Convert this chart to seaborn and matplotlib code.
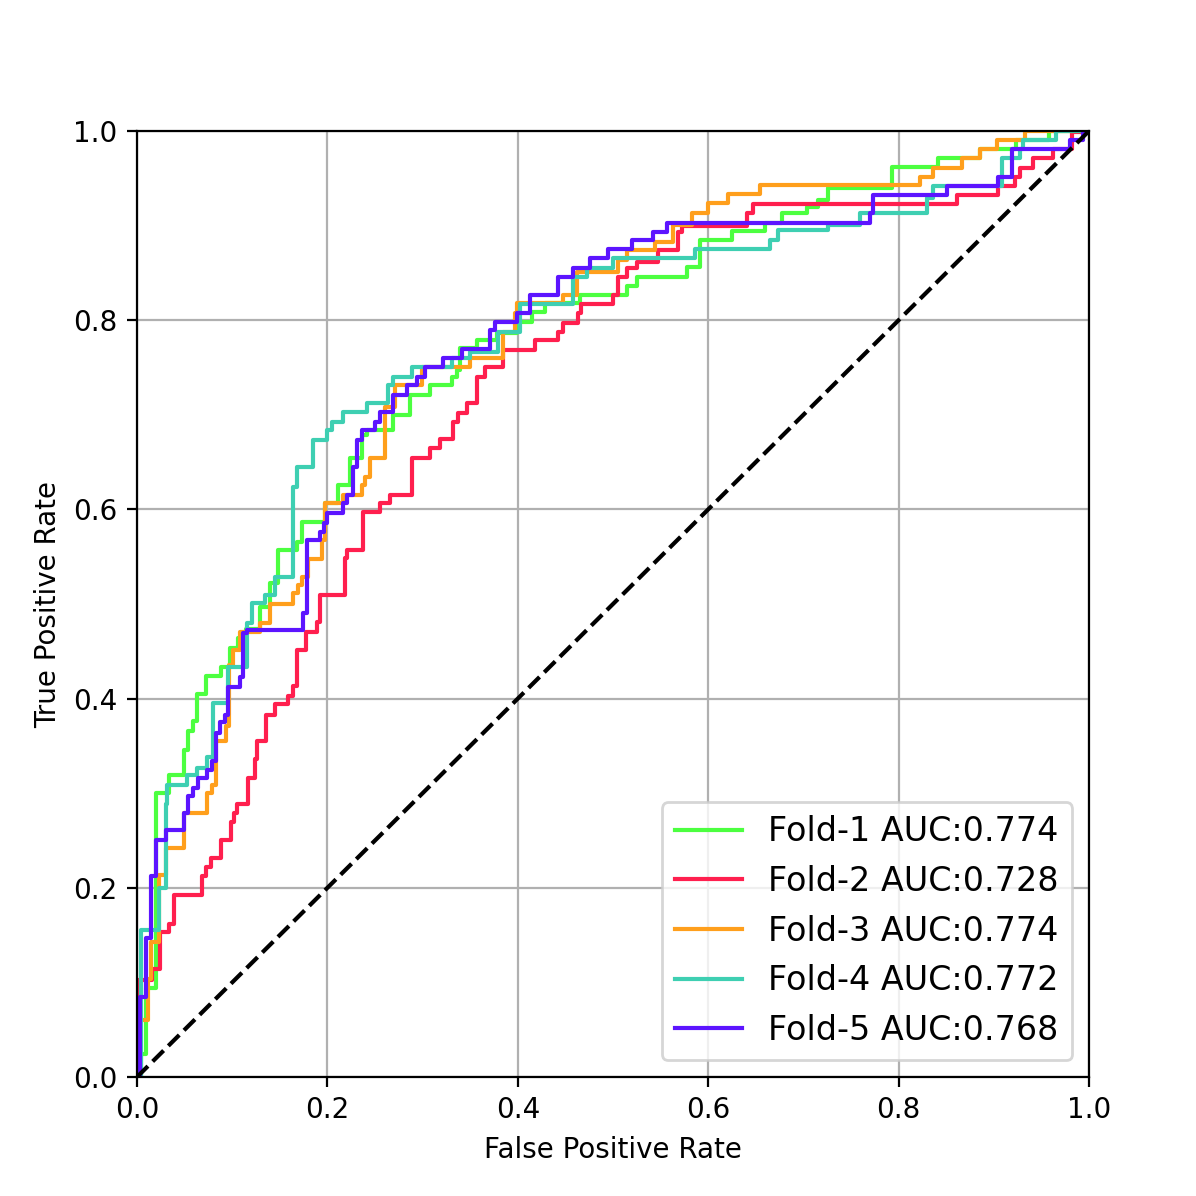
import numpy as np
import pandas as pd
import matplotlib
matplotlib.use("Agg")
import matplotlib.pyplot as plt
import seaborn as sns

# ROC step points per fold: at each fpr the tpr jumps up to the value given
fold1_fpr = [0, 0.004, 0.009, 0.0196, 0.0336, 0.049, 0.054, 0.059, 0.0635, 0.0725, 0.088, 0.098,
             0.1065, 0.115, 0.129, 0.1397, 0.1484, 0.1677, 0.1730, 0.1975, 0.2115, 0.2237, 0.2360,
             0.2413, 0.2693, 0.2868, 0.3078, 0.3305, 0.3358, 0.3393, 0.3568, 0.3778, 0.3988, 0.4146,
             0.4286, 0.4653, 0.5144, 0.5252, 0.5774, 0.5914, 0.6255, 0.6597, 0.6772, 0.7035, 0.7157,
             0.7262, 0.7927, 0.8417, 0.8856, 0.9233, 0.9582, 1.0]
fold1_tpr = [0, 0.024, 0.094, 0.300, 0.319, 0.346, 0.366, 0.376, 0.405, 0.424, 0.433, 0.453,
             0.464, 0.474, 0.497, 0.522, 0.557, 0.566, 0.587, 0.6065, 0.6258, 0.6541, 0.6787,
             0.684, 0.6998, 0.7206, 0.7315, 0.7403, 0.7474, 0.7702, 0.7791, 0.786, 0.7984, 0.809,
             0.8178, 0.8266, 0.836, 0.846, 0.8566, 0.8848, 0.8946, 0.9024, 0.913, 0.920, 0.927,
             0.9394, 0.9623, 0.9711, 0.981, 0.9905, 1.0, 1.0]

fold2_fpr = [0, 0.0, 0.016, 0.0242, 0.0336, 0.0389, 0.0686, 0.0721, 0.0774, 0.0879, 0.0984, 0.1019,
             0.1054, 0.117, 0.124, 0.126, 0.136, 0.145, 0.159, 0.164, 0.1684, 0.178, 0.1887, 0.1922,
             0.2185, 0.2210, 0.2370, 0.2553, 0.2658, 0.2892, 0.3078, 0.318, 0.3316, 0.3368, 0.3470,
             0.3568, 0.3655, 0.3848, 0.4181, 0.4427, 0.4471, 0.4636, 0.4661, 0.5004, 0.5056, 0.5144,
             0.5249, 0.5477, 0.5686, 0.5721, 0.6404, 0.6474, 0.8609, 0.9048, 0.9222, 0.9276, 0.9416,
             0.9625, 0.982, 1.0]
fold2_tpr = [0, 0.103, 0.114, 0.1536, 0.162, 0.192, 0.212, 0.222, 0.231, 0.2505, 0.270, 0.279,
             0.289, 0.316, 0.336, 0.355, 0.383, 0.394, 0.403, 0.413, 0.4514, 0.4707, 0.4814, 0.5097,
             0.5483, 0.5571, 0.5976, 0.6065, 0.6153, 0.6541, 0.6647, 0.674, 0.6927, 0.7022, 0.7122,
             0.7403, 0.7509, 0.7685, 0.7791, 0.7879, 0.7974, 0.8072, 0.8171, 0.8266, 0.846, 0.8548,
             0.8618, 0.8742, 0.8936, 0.8996, 0.9129, 0.9224, 0.9323, 0.9422, 0.9517, 0.9612, 0.9711,
             0.981, 0.9986, 1.0]

fold3_fpr = [0, 0.0, 0.0112, 0.0144, 0.0231, 0.030, 0.0494, 0.0739, 0.079, 0.0826, 0.0935, 0.0965,
             0.1012, 0.1082, 0.1292, 0.1397, 0.1643, 0.1695, 0.1730, 0.180, 0.194, 0.198, 0.2167,
             0.236, 0.2395, 0.2448, 0.2605, 0.2710, 0.2990, 0.3500, 0.3848, 0.3970, 0.3995, 0.4478,
             0.4618, 0.5056, 0.5144, 0.5441, 0.5634, 0.5826, 0.6001, 0.6212, 0.6545, 0.8225, 0.8365,
             0.8663, 0.8856, 0.9031, 0.9328, 1.0]
fold3_tpr = [0, 0.06, 0.104, 0.143, 0.2135, 0.242, 0.279, 0.300, 0.309, 0.355, 0.371, 0.435,
             0.4514, 0.4708, 0.4796, 0.4995, 0.5113, 0.5201, 0.529, 0.5472, 0.5677, 0.6065, 0.6153,
             0.6258, 0.6347, 0.6541, 0.7086, 0.7315, 0.7509, 0.7597, 0.7879, 0.8072, 0.8178, 0.8266,
             0.8513, 0.8636, 0.8742, 0.8830, 0.9006, 0.9129, 0.9235, 0.933, 0.9429, 0.9517, 0.9612,
             0.9711, 0.981, 0.9905, 1.0, 1.0]

fold4_fpr = [0, 0.0046, 0.0231, 0.030, 0.032, 0.053, 0.0627, 0.0732, 0.0795, 0.0960, 0.1152, 0.1205,
             0.1345, 0.1450, 0.1643, 0.1684, 0.1852, 0.1992, 0.2045, 0.2167, 0.2413, 0.2640, 0.2693,
             0.2885, 0.3305, 0.3498, 0.3795, 0.4023, 0.4583, 0.4723, 0.5004, 0.5861, 0.665, 0.673,
             0.7262, 0.7595, 0.8302, 0.8365, 0.9083, 0.9276, 0.9310, 0.9657, 1.0]
fold4_tpr = [0, 0.155, 0.200, 0.289, 0.309, 0.319, 0.327, 0.3386, 0.3949, 0.4337, 0.4795, 0.5007,
             0.5095, 0.5289, 0.6241, 0.6452, 0.6734, 0.6840, 0.6928, 0.7034, 0.7122, 0.7315, 0.7403,
             0.7509, 0.7597, 0.7668, 0.7879, 0.8171, 0.8460, 0.8548, 0.8654, 0.8749, 0.8847, 0.8953,
             0.901, 0.913, 0.9288, 0.9418, 0.9711, 0.981, 0.9905, 1.0, 1.0]

fold5_fpr = [0, 0.003, 0.009, 0.0144, 0.0196, 0.030, 0.049, 0.054, 0.059, 0.0644, 0.0732, 0.0784,
             0.083, 0.0872, 0.0924, 0.096, 0.108, 0.111, 0.1152, 0.1747, 0.1782, 0.1923, 0.1964,
             0.1992, 0.2167, 0.2202, 0.2265, 0.2307, 0.2360, 0.2500, 0.2553, 0.2692, 0.2833, 0.2937,
             0.3025, 0.3218, 0.3410, 0.3708, 0.3760, 0.3988, 0.4128, 0.4426, 0.4578, 0.4760, 0.4952,
             0.5196, 0.5424, 0.5571, 0.770, 0.7735, 0.8505, 0.9048, 0.9188, 0.98, 0.994, 1.0]
fold5_tpr = [0, 0.085, 0.147, 0.212, 0.251, 0.261, 0.279, 0.297, 0.306, 0.316, 0.325, 0.334,
             0.364, 0.375, 0.383, 0.412, 0.423, 0.469, 0.4725, 0.490, 0.5677, 0.5765, 0.5853,
             0.5959, 0.6065, 0.6153, 0.6452, 0.6734, 0.6840, 0.6928, 0.7034, 0.7209, 0.7315, 0.7403,
             0.7509, 0.7597, 0.7692, 0.7896, 0.7984, 0.8079, 0.8266, 0.8460, 0.8548, 0.8654, 0.8749,
             0.8848, 0.8936, 0.9031, 0.9129, 0.9323, 0.9422, 0.9517, 0.981, 0.9905, 1.0, 1.0]

fold_names = ["Fold-1", "Fold-2", "Fold-3", "Fold-4", "Fold-5"]
fold_auc = [0.774, 0.728, 0.774, 0.772, 0.768]
fold_colors = ["#4cff40", "#ff1f4e", "#ff9f1c", "#3ecfb2", "#5c14ff"]

all_fpr = [fold1_fpr, fold2_fpr, fold3_fpr, fold4_fpr, fold5_fpr]
all_tpr = [fold1_tpr, fold2_tpr, fold3_tpr, fold4_tpr, fold5_tpr]

DPI = 200
fig = plt.figure(figsize=(1196 / DPI, 1196 / DPI), dpi=DPI)
ax = fig.add_axes([137 / 1196, 119 / 1196, 952 / 1196, 946 / 1196])
ax.grid(True, color="#b0b0b0", linewidth=0.8)
ax.set_axisbelow(True)

for name, auc, col, fpr, tpr in zip(fold_names, fold_auc, fold_colors, all_fpr, all_tpr):
    df = pd.DataFrame({"fpr": fpr, "tpr": tpr})
    sns.lineplot(data=df, x="fpr", y="tpr", ax=ax, color=col, linewidth=1.5,
                 drawstyle="steps-post", estimator=None, sort=False,
                 label=f"{name} AUC:{auc:.3f}")

ax.plot([0, 1], [0, 1], color="black", linestyle="--", linewidth=1.5)

ax.set_xlim(0, 1)
ax.set_ylim(0, 1)
ax.set_xticks(np.arange(0, 1.01, 0.2))
ax.set_yticks(np.arange(0, 1.01, 0.2))
ax.set_xlabel("False Positive Rate")
ax.set_ylabel("True Positive Rate")
ax.legend(loc="lower right", fontsize=12)

fig.savefig("out.png", dpi=DPI)
